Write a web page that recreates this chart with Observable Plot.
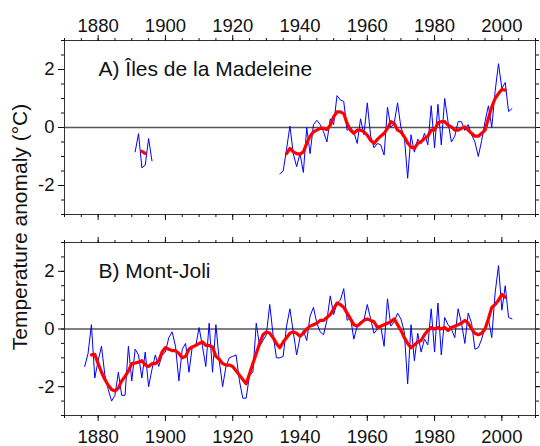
<!DOCTYPE html>
<html>
<head>
<meta charset="utf-8">
<script src="https://cdn.jsdelivr.net/npm/d3@7"></script>
<script src="https://cdn.jsdelivr.net/npm/@observablehq/plot@0.6"></script>
<style>
  html, body { margin: 0; padding: 0; background: #fff; }
  #chart { position: relative; width: 540px; height: 446px; overflow: hidden;
           font-family: "Liberation Sans", Arial, sans-serif; color: #111; background: #fff; }
  #chart svg { position: absolute; left: 0; }
  #ylabel { position: absolute; left: 20px; top: 227px; white-space: nowrap; z-index: 2;
            font-size: 21px; transform: translate(-50%, -50%) rotate(-90deg); }
</style>
</head>
<body>
<div id="chart">
  <div id="ylabel">Temperature anomaly (°C)</div>
</div>
<script>
// Panel titles and axis labels
const titleA = "A) Îles de la Madeleine";
const titleB = "B) Mont-Joli";
const yearTicks = [1880, 1900, 1920, 1940, 1960, 1980, 2000];
const tempTicks = [-2, 0, 2];

// Îles de la Madeleine: annual anomalies (°C), two record segments
const madEarlyStart = 1891;
const madEarlyAnnual = [-0.84, -0.21, -1.39, -1.3, -0.38, -1.15];
const madEarlySmoothStart = 1893;
const madEarlySmooth = [-0.82, -0.89];

const madLateStart = 1934;
const madLateAnnual = [
  -1.6, -1.5, -0.75, 0.05, -0.9, -1.35, -0.9, -1.55, 0.0, -0.9,   // 1934-1943
  0.1, 0.25, 0.1, -0.15, -0.5, 0.3, 0.1, 1.1, 0.95, 0.9,           // 1944-1953
  -0.1, 0.0, -0.15, -0.55, 0.3, -0.25, 0.85, -0.3, -0.7, -0.55,    // 1954-1963
  -0.6, -0.95, 0.7, 0.0, 0.15, 0.85, 0.0, -0.3, -1.75, -0.25,      // 1964-1973
  -0.85, -0.4, -0.55, -0.2, -0.6, 0.75, -0.7, 0.8, -0.6, 1.0,      // 1974-1983
  0.2, -0.5, -0.3, 0.2, 0.2, -0.1, 0.1, -0.25, -0.5, -1.0,         // 1984-1993
  -0.45, 0.2, 0.75, 0.0, 1.25, 2.2, 1.35, 1.55, 0.55, 0.65         // 1994-2003
];
const madLateSmoothStart = 1936;
const madLateSmooth = [
  -0.9, -0.72, -0.84, -0.9, -0.92, -0.84, -0.55, -0.3,             // 1936-1943
  -0.15, -0.09, -0.03, -0.03, -0.07, 0.08, 0.37, 0.54, 0.54, 0.48, // 1944-1953
  0.14, -0.09, -0.2, -0.09, -0.09, -0.15, -0.26, -0.44, -0.55, -0.41, // 1954-1963
  -0.3, -0.2, -0.03, 0.2, 0.14, -0.09, -0.15, -0.32, -0.53, -0.67, // 1964-1973
  -0.72, -0.55, -0.49, -0.38, -0.3, -0.09, -0.09, 0.16, 0.2, 0.2,  // 1974-1983
  0.08, 0.02, -0.09, -0.09, -0.03, 0.02, -0.09, -0.2, -0.3, -0.3,  // 1984-1993
  -0.2, -0.09, 0.31, 0.71, 1.0, 1.17, 1.31, 1.29                   // 1994-2001
];

// Mont-Joli: annual anomalies (°C)
const mjStart = 1876;
const mjAnnual = [
  -1.3, -0.85, 0.15, -1.7,                                          // 1876-1879
  -1.1, -0.6, -1.6, -2.1, -2.5, -2.3, -1.5, -2.3, -2.3, -0.6,      // 1880-1889
  -1.8, -0.7, -0.9, -1.7, -0.8, -2.0, -1.4, -0.9, -1.3, -0.9,      // 1890-1899
  -0.8, -0.3, -0.1, -0.6, -1.8, -0.7, -0.5, -1.5, -0.6, -0.6,      // 1900-1909
  0.05, -0.6, -1.3, 0.2, -1.5, 0.15, -1.1, -2.0, -1.3, -1.0,       // 1910-1919
  -0.95, -0.9, -1.8, -2.4, -2.4, -1.6, -1.5, 0.2, -0.6, -0.4,      // 1920-1929
  -0.2, 0.85, -0.2, -1.0, -1.0, -0.95, 0.1, 0.7, -0.1, -0.9,       // 1930-1939
  -0.3, -0.05, -0.4, 0.45, 0.75, 0.2, -0.1, -0.2, 0.3, 1.15,       // 1940-1949
  0.5, 0.9, 1.0, 1.4, 0.3, 0.4, -0.35, 0.1, 0.25, 0.3,             // 1950-1959
  0.85, 0.35, -0.15, 0.0, 0.1, -0.6, 1.05, 0.1, 0.25, 0.55,        // 1960-1969
  0.35, -0.1, -1.9, 0.15, -1.1, -0.15, -0.8, -0.35, -0.55, 0.7,    // 1970-1979
  -0.8, 0.9, -0.9, 0.4, 0.15, 0.0, -0.3, 0.7, 0.2, -0.5,           // 1980-1989
  0.55, 0.2, -0.7, -0.65, -0.35, 0.05, 0.35, -0.3, 1.25, 2.2,      // 1990-1999
  0.65, 1.5, 0.4, 0.35                                              // 2000-2003
];
const mjSmoothStart = 1878;
const mjSmooth = [
  -0.9, -0.88,                                                      // 1878-1879
  -1.2, -1.5, -1.75, -1.95, -2.1, -2.15, -2.05, -1.8, -1.65, -1.45, // 1880-1889
  -1.2, -1.18, -1.15, -1.1, -1.25, -1.3, -1.2, -1.2, -1.1, -0.8,    // 1890-1899
  -0.65, -0.7, -0.75, -0.75, -0.85, -1.0, -0.95, -0.7, -0.62, -0.57, // 1900-1909
  -0.5, -0.45, -0.57, -0.57, -0.62, -0.95, -1.05, -1.2, -1.25, -1.25, // 1910-1919
  -1.3, -1.45, -1.6, -1.75, -1.9, -1.55, -1.2, -0.85, -0.5, -0.2,   // 1920-1929
  -0.1, -0.15, -0.3, -0.5, -0.65, -0.45, -0.3, -0.15, -0.1, -0.15,  // 1930-1939
  -0.25, -0.15, 0.0, 0.1, 0.15, 0.2, 0.3, 0.3, 0.4, 0.5,            // 1940-1949
  0.7, 0.9, 0.85, 0.75, 0.55, 0.35, 0.15, 0.1, 0.2, 0.3,            // 1950-1959
  0.35, 0.3, 0.25, 0.05, 0.1, 0.15, 0.2, 0.25, 0.35, 0.15,          // 1960-1969
  -0.05, -0.3, -0.5, -0.65, -0.55, -0.45, -0.4, -0.2, -0.05, 0.05,  // 1970-1979
  0.0, 0.05, 0.0, 0.05, -0.05, 0.05, 0.1, 0.15, 0.2, 0.3,           // 1980-1989
  0.2, 0.0, -0.15, -0.2, -0.15, 0.0, 0.35, 0.75, 0.85, 1.0,         // 1990-1999
  1.2, 1.1                                                          // 2000-2001
];

// Pair a start year with a list of values
const rows = (start, values, seg) => values.map((v, i) => ({year: start + i, value: v, seg}));

const annualA = [...rows(madEarlyStart, madEarlyAnnual, "early"), ...rows(madLateStart, madLateAnnual, "late")];
const smoothA = [...rows(madEarlySmoothStart, madEarlySmooth, "early"), ...rows(madLateSmoothStart, madLateSmooth, "late")];
const annualB = rows(mjStart, mjAnnual, "all");
const smoothB = rows(mjSmoothStart, mjSmooth, "all");

const FONT = '"Liberation Sans", Arial, sans-serif';
const minorYears = d3.range(1870, 2011, 5);
const minorTemps = d3.range(-3, 3.001, 0.5);
const plain = d => String(d);   // plain hyphen for negatives, no thousands separator

function panel({title, annual, smooth, labelTop, height, marginTop, marginBottom}) {
  const xAxes = labelTop
    ? [
        Plot.axisX(minorYears, {anchor: "top", tickSize: 3, fill: "none", label: null}),
        Plot.axisX(yearTicks, {anchor: "top", tickSize: 6, tickPadding: 3, tickFormat: plain, label: null}),
        Plot.axisX(minorYears, {anchor: "bottom", tickSize: 3, fill: "none", label: null}),
        Plot.axisX(yearTicks, {anchor: "bottom", tickSize: 6, fill: "none", label: null})
      ]
    : [
        Plot.axisX(minorYears, {anchor: "top", tickSize: 3, fill: "none", label: null}),
        Plot.axisX(yearTicks, {anchor: "top", tickSize: 6, fill: "none", label: null}),
        Plot.axisX(minorYears, {anchor: "bottom", tickSize: 3, fill: "none", label: null}),
        Plot.axisX(yearTicks, {anchor: "bottom", tickSize: 6, tickPadding: 8, tickFormat: plain, label: null})
      ];
  return Plot.plot({
    width: 540,
    height,
    marginLeft: 64,
    marginRight: 5,
    marginTop,
    marginBottom,
    style: {fontFamily: FONT, fontSize: "18.5px", color: "#111", background: "white"},
    x: {domain: [1870, 2010]},
    y: {domain: [-3, 3]},
    marks: [
      Plot.ruleY([0], {stroke: "#555", strokeWidth: 1.6}),
      Plot.line(annual, {x: "year", y: "value", z: "seg", stroke: "#0000ff", strokeWidth: 1}),
      Plot.line(smooth, {x: "year", y: "value", z: "seg", stroke: "#ff0000", strokeWidth: 3.2, strokeLinejoin: "round", strokeLinecap: "round"}),
      Plot.frame({stroke: "#333", strokeWidth: 1}),
      ...xAxes,
      Plot.axisY(minorTemps, {anchor: "left", tickSize: 3, fill: "none", label: null}),
      Plot.axisY(tempTicks, {anchor: "left", tickSize: 6, tickPadding: 4, tickFormat: plain, label: null}),
      Plot.axisY(minorTemps, {anchor: "right", tickSize: 3, fill: "none", label: null}),
      Plot.axisY(tempTicks, {anchor: "right", tickSize: 6, fill: "none", label: null}),
      Plot.text([title], {frameAnchor: "top-left", dx: 34, dy: 29, lineAnchor: "middle", textAnchor: "start", fontSize: 21, fill: "#111"})
    ]
  });
}

const chart = document.getElementById("chart");
const svgA = panel({title: titleA, annual: annualA, smooth: smoothA, labelTop: true, height: 227, marginTop: 40, marginBottom: 13});
svgA.style.top = "0px";
const svgB = panel({title: titleB, annual: annualB, smooth: smoothB, labelTop: false, height: 219, marginTop: 15, marginBottom: 31});
svgB.style.top = "227px";
chart.appendChild(svgA);
chart.appendChild(svgB);
</script>
</body>
</html>
